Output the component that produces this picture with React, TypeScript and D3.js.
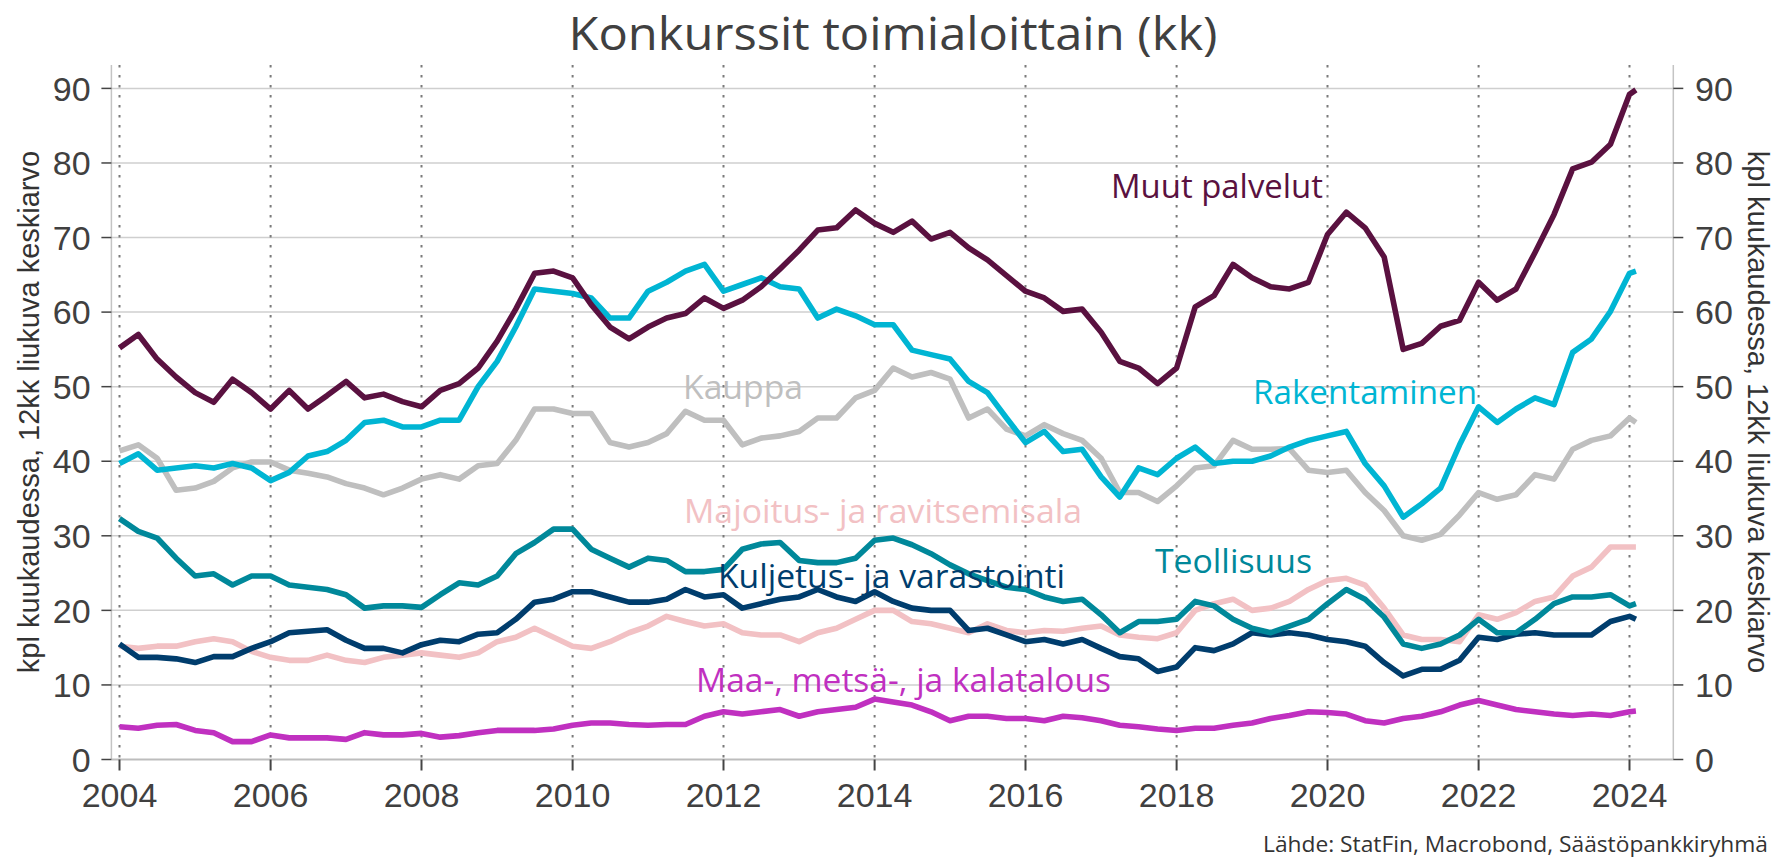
import React from "react";
import * as d3 from "d3";

// Quarterly observations Jan 2004 ... Jan 2024, plus Feb 2024
const dates: Date[] = [...d3.timeMonth.range(new Date(2004, 0, 1), new Date(2024, 1, 1), 3), new Date(2024, 1, 1)];

const muutPalvelut = [
  55.2, 57.0, 53.7, 51.3, 49.2, 47.9, 51.0, 49.2, 47.0, 49.5, 47.0, 48.8,
  50.7, 48.5, 49.0, 48.0, 47.3, 49.5, 50.4, 52.5, 56.1, 60.4, 65.2, 65.5,
  64.6, 61.0, 58.0, 56.4, 58.0, 59.2, 59.8, 61.9, 60.5, 61.6, 63.4, 65.8,
  68.3, 71.0, 71.3, 73.7, 71.9, 70.7, 72.2, 69.8, 70.7, 68.6, 67.0, 64.9,
  62.8, 61.9, 60.1, 60.4, 57.3, 53.4, 52.5, 50.4, 52.5, 60.7, 62.2, 66.4,
  64.6, 63.4, 63.1, 64.0, 70.4, 73.4, 71.3, 67.4, 55.0, 55.8, 58.1, 58.9,
  64.0, 61.6, 63.1, 68.0, 73.1, 79.2, 80.1, 82.5, 89.2, 89.8,
];
const rakentaminen = [
  39.7, 41.0, 38.8, 39.1, 39.4, 39.1, 39.7, 39.1, 37.4, 38.5, 40.7, 41.3,
  42.8, 45.2, 45.5, 44.6, 44.6, 45.5, 45.5, 50.0, 53.4, 58.0, 63.1, 62.8,
  62.5, 61.9, 59.2, 59.2, 62.8, 64.0, 65.5, 66.4, 62.8, 63.7, 64.6, 63.4,
  63.1, 59.2, 60.4, 59.5, 58.3, 58.3, 54.9, 54.3, 53.7, 50.7, 49.2, 45.8,
  42.5, 44.0, 41.3, 41.6, 37.9, 35.2, 39.1, 38.2, 40.4, 41.9, 39.7, 40.0,
  40.0, 40.7, 41.9, 42.8, 43.4, 44.0, 39.7, 36.7, 32.5, 34.3, 36.4, 42.2,
  47.3, 45.2, 47.0, 48.5, 47.6, 54.6, 56.4, 60.1, 65.2, 65.5,
];
const kauppa = [
  41.4, 42.2, 40.4, 36.1, 36.4, 37.3, 39.1, 39.9, 39.9, 38.8, 38.4, 37.9,
  37.0, 36.4, 35.5, 36.4, 37.6, 38.2, 37.6, 39.4, 39.7, 42.8, 47.0, 47.0,
  46.4, 46.4, 42.5, 41.9, 42.5, 43.7, 46.7, 45.5, 45.5, 42.2, 43.1, 43.4,
  44.0, 45.8, 45.8, 48.5, 49.5, 52.5, 51.3, 51.9, 51.0, 45.8, 47.0, 44.3,
  43.4, 44.9, 43.7, 42.8, 40.4, 35.8, 35.8, 34.6, 36.7, 39.1, 39.4, 42.8,
  41.6, 41.6, 41.7, 38.8, 38.5, 38.8, 35.8, 33.4, 30.0, 29.4, 30.2, 32.8,
  35.8, 34.9, 35.5, 38.2, 37.6, 41.6, 42.8, 43.4, 45.8, 45.2,
];
const majoitus = [
  15.2, 14.9, 15.2, 15.2, 15.8, 16.2, 15.8, 14.5, 13.7, 13.3, 13.3, 14.0,
  13.3, 13.0, 13.7, 14.0, 14.3, 14.0, 13.7, 14.3, 15.8, 16.4, 17.6, 16.4,
  15.2, 14.9, 15.8, 17.0, 17.9, 19.2, 18.5, 17.9, 18.2, 17.0, 16.7, 16.7,
  15.8, 17.0, 17.6, 18.8, 20.0, 20.0, 18.5, 18.2, 17.6, 17.0, 18.2, 17.3,
  17.0, 17.3, 17.2, 17.6, 17.9, 16.7, 16.4, 16.2, 17.0, 20.0, 20.9, 21.5,
  20.0, 20.3, 21.2, 22.8, 24.0, 24.3, 23.4, 20.3, 16.7, 16.1, 16.1, 15.8,
  19.4, 18.8, 19.7, 21.2, 21.8, 24.6, 25.8, 28.5, 28.5, 28.5,
];
const teollisuus = [
  32.3, 30.6, 29.7, 27.0, 24.6, 24.9, 23.4, 24.6, 24.6, 23.4, 23.1, 22.8,
  22.1, 20.3, 20.6, 20.6, 20.4, 22.1, 23.7, 23.4, 24.6, 27.6, 29.1, 30.9,
  30.9, 28.2, 27.0, 25.8, 27.0, 26.7, 25.2, 25.2, 25.5, 28.2, 28.9, 29.1,
  26.7, 26.4, 26.4, 27.0, 29.4, 29.7, 28.8, 27.6, 26.1, 24.9, 24.0, 23.1,
  22.8, 21.8, 21.2, 21.5, 19.4, 17.0, 18.5, 18.5, 18.8, 21.2, 20.6, 18.8,
  17.6, 17.0, 17.9, 18.8, 20.9, 22.8, 21.5, 19.1, 15.5, 14.9, 15.5, 16.7,
  18.8, 17.0, 17.0, 18.8, 20.9, 21.8, 21.8, 22.1, 20.6, 20.9,
];
const kuljetus = [
  15.5, 13.7, 13.7, 13.5, 13.0, 13.8, 13.8, 14.9, 15.8, 17.0, 17.2, 17.4,
  16.0, 14.9, 14.9, 14.3, 15.4, 16.0, 15.8, 16.8, 17.0, 18.8, 21.1, 21.5,
  22.5, 22.5, 21.8, 21.1, 21.1, 21.5, 22.8, 21.8, 22.1, 20.3, 20.9, 21.5,
  21.8, 22.8, 21.8, 21.2, 22.5, 21.2, 20.3, 20.0, 20.0, 17.3, 17.6, 16.7,
  15.8, 16.1, 15.5, 16.1, 14.9, 13.8, 13.5, 11.8, 12.4, 15.0, 14.6, 15.5,
  17.0, 16.7, 17.0, 16.7, 16.1, 15.8, 15.2, 13.0, 11.2, 12.1, 12.1, 13.3,
  16.4, 16.1, 16.8, 17.0, 16.7, 16.7, 16.7, 18.5, 19.2, 18.8,
];
const maatalous = [
  4.4, 4.2, 4.6, 4.7, 3.9, 3.6, 2.4, 2.4, 3.3, 2.9, 2.9, 2.9,
  2.7, 3.6, 3.3, 3.3, 3.5, 3.0, 3.2, 3.6, 3.9, 3.9, 3.9, 4.1,
  4.6, 4.9, 4.9, 4.7, 4.6, 4.7, 4.7, 5.8, 6.4, 6.1, 6.4, 6.7,
  5.8, 6.4, 6.7, 7.0, 8.1, 7.7, 7.3, 6.4, 5.2, 5.8, 5.8, 5.5,
  5.5, 5.2, 5.8, 5.6, 5.2, 4.6, 4.4, 4.1, 3.9, 4.2, 4.2, 4.6,
  4.9, 5.5, 5.9, 6.4, 6.3, 6.1, 5.2, 4.9, 5.5, 5.8, 6.4, 7.3,
  7.9, 7.3, 6.7, 6.4, 6.1, 5.9, 6.1, 5.9, 6.4, 6.5,
];

const yTicks = [0, 10, 20, 30, 40, 50, 60, 70, 80, 90];
const xTickYears = [2004, 2006, 2008, 2010, 2012, 2014, 2016, 2018, 2020, 2022, 2024];

const TITLE = "Konkurssit toimialoittain (kk)";
const Y_TITLE = "kpl kuukaudessa, 12kk liukuva keskiarvo";
const SOURCE = "Lähde: StatFin, Macrobond, Säästöpankkiryhmä";

// drawing order: bottom to top
const series = [
  { name: "Maa-, metsä-, ja kalatalous", values: maatalous, color: "#c030c0", lx: 696, ly: 692, lw: 415 },
  { name: "Majoitus- ja ravitsemisala", values: majoitus, color: "#f2c1c4", lx: 684, ly: 523, lw: 398 },
  { name: "Kauppa", values: kauppa, color: "#bfbfbf", lx: 683, ly: 399, lw: 120 },
  { name: "Kuljetus- ja varastointi", values: kuljetus, color: "#003d6d", lx: 718, ly: 588, lw: 347 },
  { name: "Teollisuus", values: teollisuus, color: "#00889a", lx: 1155, ly: 573, lw: 157 },
  { name: "Rakentaminen", values: rakentaminen, color: "#00b5d3", lx: 1253, ly: 404, lw: 224 },
  { name: "Muut palvelut", values: muutPalvelut, color: "#5a1140", lx: 1111, ly: 198, lw: 212 },
];

const W = 1781;
const H = 861;
const plotLeft = 111.4;
const plotRight = 1673.3;
const plotTop = 65;

export default function App() {
  const x = d3
    .scaleTime()
    .domain([new Date(2004, 0, 1), new Date(2024, 0, 1)])
    .range([119.5, 1629.5]);
  const y = d3.scaleLinear().domain([0, 90]).range([759.5, 88.4]);

  const tickFont = "'Liberation Sans', Arial, sans-serif";
  const labelFont = "'Open Sans', sans-serif";

  return (
    <svg
      width={W}
      height={H}
      viewBox={`0 0 ${W} ${H}`}
      style={{ position: "absolute", left: 0, top: 0, background: "#fff" }}
    >
      <rect x={0} y={0} width={W} height={H} fill="#fff" />
      {yTicks.map((t) => (
        <line
          key={"g" + t}
          x1={plotLeft}
          x2={plotRight}
          y1={y(t)}
          y2={y(t)}
          stroke={t === 0 ? "#bdbdbd" : "#cfcfcf"}
          strokeWidth={t === 0 ? 2 : 1.5}
        />
      ))}
      {xTickYears.map((yr) => (
        <line
          key={"v" + yr}
          x1={x(new Date(yr, 0, 1))}
          x2={x(new Date(yr, 0, 1))}
          y1={plotTop}
          y2={y(0)}
          stroke="#7a7a7a"
          strokeWidth={2}
          strokeDasharray="2.5 7.5"
        />
      ))}
      <line x1={plotLeft} x2={plotLeft} y1={plotTop} y2={y(0)} stroke="#c4c4c4" strokeWidth={1.5} />
      <line x1={plotRight} x2={plotRight} y1={plotTop} y2={y(0)} stroke="#c4c4c4" strokeWidth={1.5} />
      {yTicks.map((t) => (
        <g key={"yt" + t}>
          <line x1={plotLeft - 10} x2={plotLeft} y1={y(t)} y2={y(t)} stroke="#444" strokeWidth={1.5} />
          <line x1={plotRight} x2={plotRight + 10} y1={y(t)} y2={y(t)} stroke="#444" strokeWidth={1.5} />
          <text x={90.7} y={y(t)} dy="0.36em" textAnchor="end" fontFamily={tickFont} fontSize={34} fill="#404040">
            {t}
          </text>
          <text x={1695} y={y(t)} dy="0.36em" textAnchor="start" fontFamily={tickFont} fontSize={34} fill="#404040">
            {t}
          </text>
        </g>
      ))}
      {xTickYears.map((yr) => {
        const xx = x(new Date(yr, 0, 1));
        return (
          <g key={"xt" + yr}>
            <line x1={xx} x2={xx} y1={y(0)} y2={y(0) + 11} stroke="#444" strokeWidth={2} />
            <text x={xx} y={807} textAnchor="middle" fontFamily={tickFont} fontSize={34} fill="#404040">
              {yr}
            </text>
          </g>
        );
      })}
      {series.map((s) => {
        const line = d3
          .line<number>()
          .x((_, i) => x(dates[i]))
          .y((d) => y(d));
        return (
          <path
            key={s.name}
            d={line(s.values) || ""}
            fill="none"
            stroke={s.color}
            strokeWidth={5.6}
            strokeLinejoin="round"
            strokeLinecap="butt"
          />
        );
      })}
      {series.map((s) => (
        <text
          key={"l" + s.name}
          x={s.lx}
          y={s.ly}
          fontFamily={labelFont}
          fontSize={33.5}
          fill={s.color}
          textLength={s.lw}
          lengthAdjust="spacingAndGlyphs"
        >
          {s.name}
        </text>
      ))}
      <text
        x={893}
        y={50}
        textAnchor="middle"
        fontFamily={labelFont}
        fontSize={46}
        fill="#404040"
        textLength={649}
        lengthAdjust="spacingAndGlyphs"
      >
        {TITLE}
      </text>
      <text transform="translate(39,412) rotate(-90)" textAnchor="middle" fontFamily={tickFont} fontSize={29} fill="#333">
        {Y_TITLE}
      </text>
      <text transform="translate(1748,412) rotate(90)" textAnchor="middle" fontFamily={tickFont} fontSize={29} fill="#333">
        {Y_TITLE}
      </text>
      <text
        x={1768}
        y={852}
        textAnchor="end"
        fontFamily={labelFont}
        fontSize={21}
        fill="#333"
        textLength={505}
        lengthAdjust="spacingAndGlyphs"
      >
        {SOURCE}
      </text>
    </svg>
  );
}
